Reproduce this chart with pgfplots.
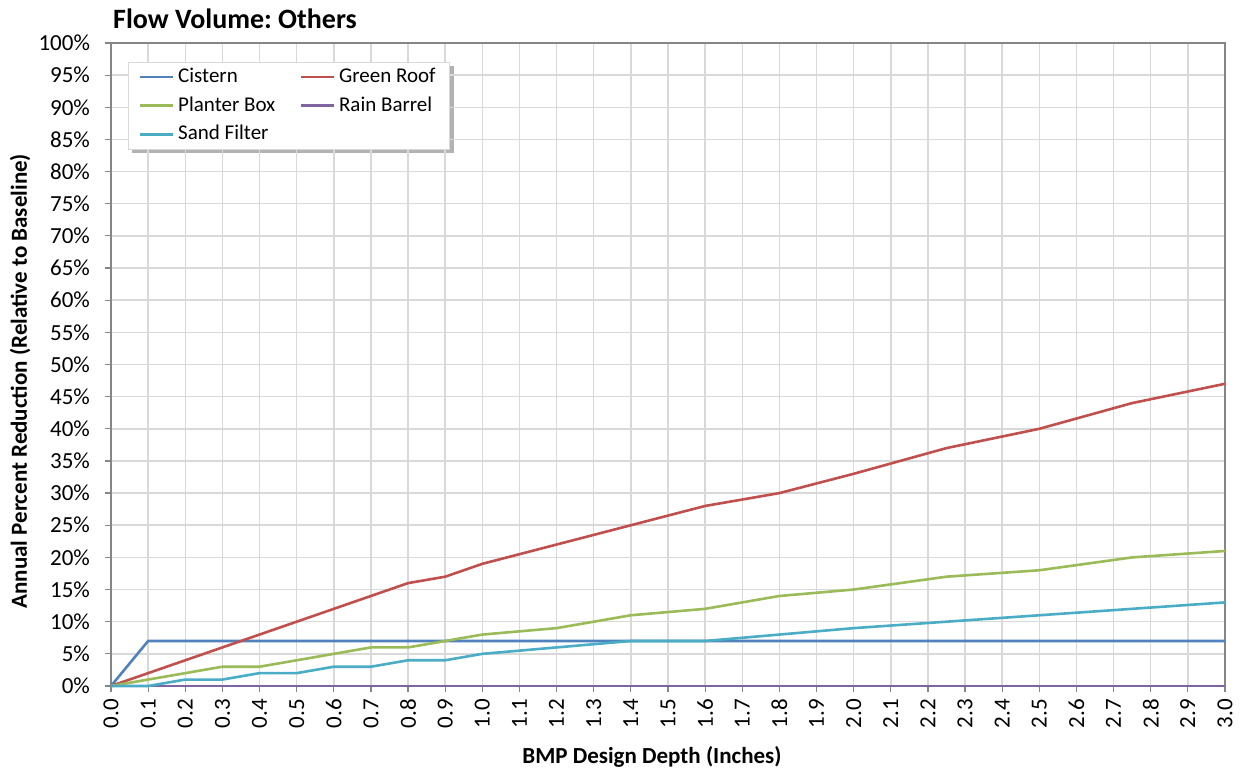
\documentclass[border=0pt]{standalone}
\usepackage{pgfplots}
\pgfplotsset{compat=1.18}
\usepackage{fontspec}
\setmainfont{Carlito}
\usetikzlibrary{backgrounds}
\frenchspacing
\definecolor{cCistern}{HTML}{4F81BD}
\definecolor{cGreen}{HTML}{C0504D}
\definecolor{cPlanter}{HTML}{9BBB59}
\definecolor{cRain}{HTML}{8064A2}
\definecolor{cSand}{HTML}{4BACC6}
\definecolor{gridc}{HTML}{D9D9D9}
\definecolor{axc}{HTML}{868686}
\begin{document}
\begin{tikzpicture}
\useasboundingbox (-55.5pt,-43pt) rectangle (566.5pt,343pt);
\begin{axis}[
  at={(0pt,0pt)}, anchor=south west,
  scale only axis, width=557pt, height=321.5pt,
  xmin=0, xmax=3, ymin=0, ymax=100,
  clip=false,
  xtick={0,0.1,0.2,0.3,0.4,0.5,0.6,0.7,0.8,0.9,1.0,1.1,1.2,1.3,1.4,1.5,1.6,1.7,1.8,1.9,2.0,2.1,2.2,2.3,2.4,2.5,2.6,2.7,2.8,2.9,3.0},
  ytick={0,5,...,100},
  grid=major,
  major grid style={gridc, line width=0.75pt},
  axis line style={axc, line width=0.7pt},
  tick style={axc, line width=0.6pt},
  tick align=outside, major tick length=3pt,
  xtick pos=bottom, ytick pos=left,
  /pgf/number format/assume math mode=true,
  x tick label style={rotate=90, anchor=east, font=\fontsize{11.5}{13}\selectfont, /pgf/number format/.cd, fixed, fixed zerofill, precision=1},
  y tick label style={font=\fontsize{11.5}{13}\selectfont, xshift=-4pt},
  yticklabel={\pgfmathprintnumber[fixed,precision=0,assume math mode=true]{\tick}\%},
  xlabel={BMP Design Depth (Inches)},
  xlabel style={font=\fontsize{11.5}{13}\selectfont\bfseries, at={(axis description cs:0.4856,-0.110)}, anchor=center},
  ylabel={Annual Percent Reduction (Relative to Baseline)},
  ylabel style={font=\fontsize{11.5}{13}\selectfont\bfseries, at={(axis description cs:-0.0817,0.474)}, anchor=center, rotate=0},
  every axis title shift=0pt,
  title={Flow Volume: Others},
  title style={font=\fontsize{14}{16}\selectfont\bfseries, at={(axis description cs:0.001,1.037)}, anchor=west, yshift=0pt, xshift=-3pt},
  legend columns=2,
  legend cell align=left,
  legend style={at={(axis description cs:0.01526,0.9705)}, anchor=north west,
    name=leg,
    draw=gridc, fill=white,
    font=\fontsize{10.5}{12}\selectfont, row sep=1.5pt,
    /tikz/every even column/.append style={column sep=10pt},
    inner xsep=5pt, inner ysep=1pt},
  legend image code/.code={\draw[#1, line width=1.4pt] (0pt,0pt) -- (16.5pt,0pt);},
  every axis plot/.append style={line width=1.3pt},
]
\addplot[cCistern] coordinates {(0,0) (0.1,7) (0.2,7) (0.3,7) (0.4,7) (0.5,7) (0.6,7) (0.7,7) (0.8,7) (0.9,7) (1.0,7) (1.2,7) (1.4,7) (1.6,7) (1.8,7) (2.0,7) (2.25,7) (2.5,7) (2.75,7) (3.0,7)};
\addlegendentry{Cistern}
\addplot[cGreen] coordinates {(0,0) (0.1,2) (0.2,4) (0.3,6) (0.4,8) (0.5,10) (0.6,12) (0.7,14) (0.8,16) (0.9,17) (1.0,19) (1.2,22) (1.4,25) (1.6,28) (1.8,30) (2.0,33) (2.25,37) (2.5,40) (2.75,44) (3.0,47)};
\addlegendentry{Green Roof}
\addplot[cPlanter] coordinates {(0,0) (0.1,1) (0.2,2) (0.3,3) (0.4,3) (0.5,4) (0.6,5) (0.7,6) (0.8,6) (0.9,7) (1.0,8) (1.2,9) (1.4,11) (1.6,12) (1.8,14) (2.0,15) (2.25,17) (2.5,18) (2.75,20) (3.0,21)};
\addlegendentry{Planter Box}
\addplot[cRain] coordinates {(0,0) (0.1,0) (0.2,0) (0.3,0) (0.4,0) (0.5,0) (0.6,0) (0.7,0) (0.8,0) (0.9,0) (1.0,0) (1.2,0) (1.4,0) (1.6,0) (1.8,0) (2.0,0) (2.25,0) (2.5,0) (2.75,0) (3.0,0)};
\addlegendentry{Rain Barrel}
\addplot[cSand] coordinates {(0,0) (0.1,0) (0.2,1) (0.3,1) (0.4,2) (0.5,2) (0.6,3) (0.7,3) (0.8,4) (0.9,4) (1.0,5) (1.2,6) (1.4,7) (1.6,7) (1.8,8) (2.0,9) (2.25,10) (2.5,11) (2.75,12) (3.0,13)};
\addlegendentry{Sand Filter}
\end{axis}
\begin{scope}[on background layer]
\fill[black, opacity=0.3] ([xshift=2pt,yshift=-2pt]leg.south west) rectangle ([xshift=2pt,yshift=-2pt]leg.north east);
\end{scope}
\end{tikzpicture}
\end{document}
